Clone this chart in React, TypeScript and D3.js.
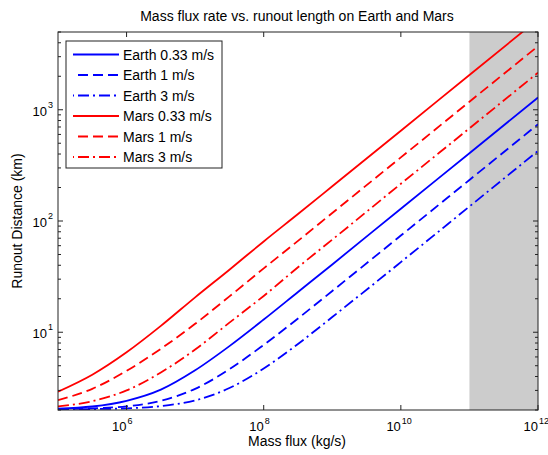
import React from 'react';
import * as d3 from 'd3';

// mass flux (kg/s) sample points
const massFlux = [1e5, 3.162e5, 1e6, 3.162e6, 1e7, 3.162e7, 1e8, 3.162e8, 1e9, 1e10, 1e11, 1e12];

// runout distance (km)
const earth033 = [2.06, 2.15, 2.42, 3.05, 4.55, 7.5, 13.0, 23.0, 40.7, 129, 407, 1288];
const earth1 = [2.03, 2.07, 2.16, 2.42, 3.1, 4.65, 7.7, 13.3, 23.5, 74, 234, 740];
const earth3 = [2.02, 2.04, 2.07, 2.17, 2.44, 3.15, 4.72, 7.85, 13.7, 42.7, 135, 427];
const mars033 = [2.92, 4.15, 6.6, 11.4, 20.6, 36.5, 65.5, 115.5, 205, 648, 2055, 6500];
const mars1 = [2.45, 3.1, 4.5, 7.1, 11.9, 21, 37.5, 66.3, 118, 373, 1180, 3730];
const mars3 = [2.15, 2.4, 3.0, 4.35, 7.0, 12.2, 21.2, 38.4, 68, 216, 681, 2154];

const seriesNames = ['Earth 0.33 m/s', 'Earth 1 m/s', 'Earth 3 m/s', 'Mars 0.33 m/s', 'Mars 1 m/s', 'Mars 3 m/s'];
const seriesValues = [earth033, earth1, earth3, mars033, mars1, mars3];
const seriesColors = ['#0000ff', '#0000ff', '#0000ff', '#ff0000', '#ff0000', '#ff0000'];
const seriesDash = ['', '10,5', '11,4,2,4', '', '10,5', '11,4,2,4'];

const xTickValues = [1e6, 1e8, 1e10, 1e12];
const xTickExp = ['6', '8', '10', '12'];
const yTickValues = [10, 100, 1000];
const yTickExp = ['1', '2', '3'];
const shadeRange = [1e11, 1e12];

const W = 548, H = 455;
const plot = {left: 58, right: 538, top: 32, bottom: 410};
const font = "'Liberation Sans', Arial, Helvetica, sans-serif";

export default function App() {
    const xScale = d3.scaleLog().domain([1e5, 1e12]).range([plot.left, plot.right]);
    const yScale = d3.scaleLog().domain([2, 5000]).range([plot.bottom, plot.top]);

    const line = d3.line<[number, number]>()
        .x(d => xScale(d[0]))
        .y(d => yScale(d[1]))
        .curve(d3.curveMonotoneX);

    // minor ticks (2..9 x 10^k) from the log scale itself
    const yMinor = yScale.ticks().filter(v => Math.abs(Math.log10(v) - Math.round(Math.log10(v))) > 1e-6);

    const legX = 66, legY = 41, legW = 156, legH = 127, rowH = 20.5;

    return (
        <svg width={W} height={H} style={{position: 'absolute', left: 0, top: 0}} fontFamily={font}>
            <rect x={0} y={0} width={W} height={H} fill="#fff" />
            <defs>
                <clipPath id="plotClip">
                    <rect x={plot.left} y={plot.top} width={plot.right - plot.left} height={plot.bottom - plot.top} />
                </clipPath>
            </defs>
            <text x={297} y={21} fontSize={14} textAnchor="middle" fill="#000">
                Mass flux rate vs. runout length on Earth and Mars
            </text>

            {/* shaded region */}
            <rect x={xScale(shadeRange[0])} y={plot.top}
                  width={xScale(shadeRange[1]) - xScale(shadeRange[0])}
                  height={plot.bottom - plot.top} fill="#cccccc" />

            <g clipPath="url(#plotClip)">
                {seriesValues.map((vals, i) => (
                    <path key={i}
                          d={line(massFlux.map((x, j) => [x, vals[j]] as [number, number])) || ''}
                          fill="none" stroke={seriesColors[i]} strokeWidth={1.8}
                          strokeDasharray={seriesDash[i] || undefined} />
                ))}
            </g>

            {/* ticks */}
            <g stroke="#222" strokeWidth={1}>
                {xTickValues.map((v, i) => (
                    <g key={'xt' + i}>
                        <line x1={xScale(v)} x2={xScale(v)} y1={plot.bottom} y2={plot.bottom - 5} />
                        <line x1={xScale(v)} x2={xScale(v)} y1={plot.top} y2={plot.top + 5} />
                    </g>
                ))}
                {yTickValues.map((v, i) => (
                    <g key={'yt' + i}>
                        <line x1={plot.left} x2={plot.left + 5} y1={yScale(v)} y2={yScale(v)} />
                        <line x1={plot.right} x2={plot.right - 5} y1={yScale(v)} y2={yScale(v)} />
                    </g>
                ))}
                {yMinor.map((v, i) => (
                    <g key={'ym' + i}>
                        <line x1={plot.left} x2={plot.left + 3} y1={yScale(v)} y2={yScale(v)} />
                        <line x1={plot.right} x2={plot.right - 3} y1={yScale(v)} y2={yScale(v)} />
                    </g>
                ))}
            </g>
            <rect x={plot.left} y={plot.top} width={plot.right - plot.left} height={plot.bottom - plot.top}
                  fill="none" stroke="#222" strokeWidth={1} />

            {/* tick labels */}
            {xTickValues.map((v, i) => (
                <g key={'xl' + i} fill="#000">
                    <text x={xScale(v)} y={431} fontSize={13} textAnchor="end">10</text>
                    <text x={xScale(v) + 1} y={424} fontSize={9}>{xTickExp[i]}</text>
                </g>
            ))}
            {yTickValues.map((v, i) => (
                <g key={'yl' + i} fill="#000">
                    <text x={47} y={yScale(v) + 6} fontSize={13} textAnchor="end">10</text>
                    <text x={48} y={yScale(v) - 2} fontSize={9}>{yTickExp[i]}</text>
                </g>
            ))}

            <text x={297} y={446} fontSize={14} textAnchor="middle" fill="#000">Mass flux (kg/s)</text>
            <text transform={`translate(22,${(plot.top + plot.bottom) / 2}) rotate(-90)`} fontSize={14}
                  textAnchor="middle" fill="#000">Runout Distance (km)</text>

            {/* legend */}
            <rect x={legX} y={legY} width={legW} height={legH} fill="#fff" stroke="#222" strokeWidth={1} />
            {seriesNames.map((name, i) => {
                const cy = legY + 13.5 + i * rowH;
                return (
                    <g key={'lg' + i}>
                        <line x1={73} x2={119} y1={cy} y2={cy} stroke={seriesColors[i]} strokeWidth={1.8}
                              strokeDasharray={seriesDash[i] || undefined} strokeDashoffset={seriesDash[i] ? -5 : 0} />
                        <text x={123} y={cy + 5} fontSize={14} fill="#000">{name}</text>
                    </g>
                );
            })}
        </svg>
    );
}
